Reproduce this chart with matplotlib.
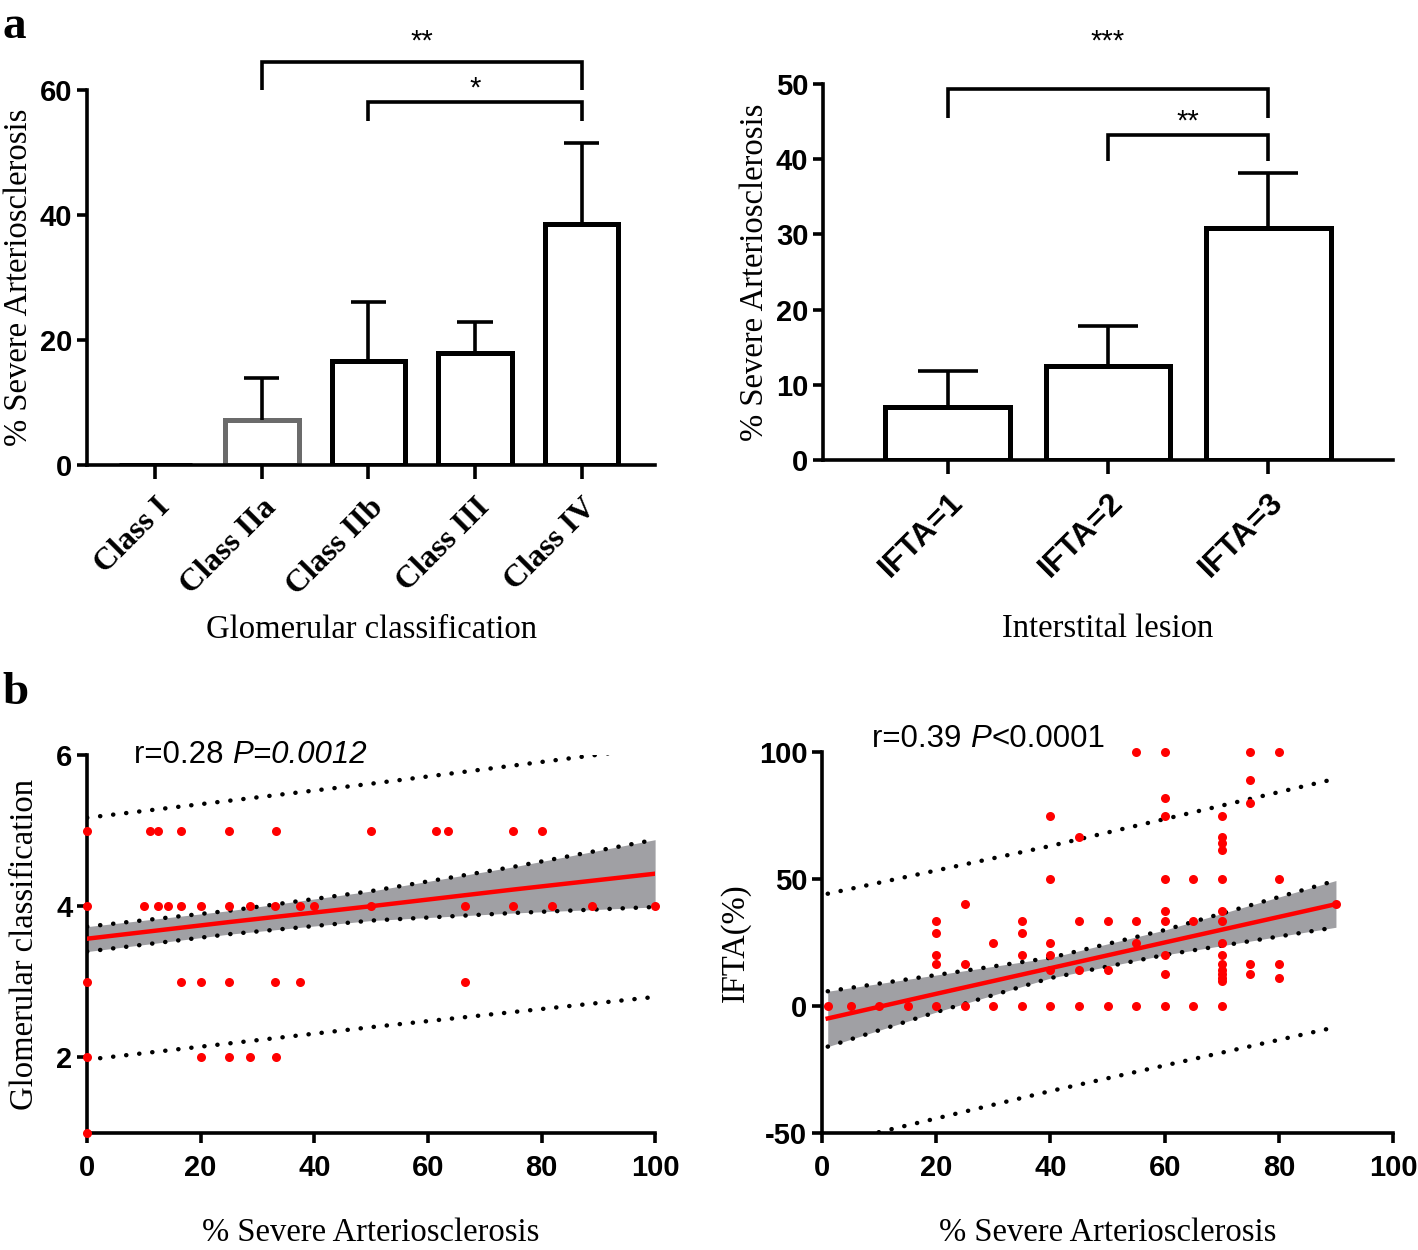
"""Bar charts (a) and correlation scatter plots (b) of severe arteriosclerosis."""

import numpy as np
import matplotlib
matplotlib.use("Agg")
import matplotlib.pyplot as plt

plt.rcParams["axes.unicode_minus"] = False

# --- Panel a, left: glomerular classification ---
glom_classes = ["Class I", "Class IIa", "Class IIb", "Class III", "Class IV"]
glom_mean = [0.0, 7.2, 16.6, 17.9, 38.5]
glom_sem = [0.0, 6.8, 9.5, 5.0, 13.1]

# --- Panel a, right: interstitial lesion ---
ifta_classes = ["IFTA=1", "IFTA=2", "IFTA=3"]
ifta_mean = [7.0, 12.5, 30.8]
ifta_sem = [4.9, 5.3, 7.4]

# --- Panel b, left: glomerular class vs % severe arteriosclerosis ---
glom_x = [0, 11, 12.5, 16.6, 25, 33.3, 50, 61.5, 63.6, 75, 80,
          0, 10, 12.5, 14.3, 16.6, 20, 25, 28.6, 33, 37.5, 40, 50, 66.6, 75, 81.8, 88.9, 100,
          0, 16.6, 20, 25, 33, 37.5, 66.6,
          0, 20, 25, 28.6, 33.3,
          0]
glom_y = [5] * 11 + [4] * 17 + [3] * 7 + [2] * 5 + [1]
glom_fit_x = [0, 25, 50, 75, 100]
glom_fit = [3.57, 3.79, 4.00, 4.22, 4.43]
glom_ci_hi = [3.73, 3.94, 4.20, 4.52, 4.88]
glom_ci_lo = [3.40, 3.63, 3.81, 3.91, 3.99]
glom_pi_x = [0, 50, 100]
glom_pi_hi = [5.17, 5.62, 6.10]
glom_pi_lo = [1.97, 2.40, 2.80]

# --- Panel b, right: IFTA(%) vs % severe arteriosclerosis ---
ifta_x = [1, 5, 10, 15, 20, 25, 30, 35, 40, 45, 50, 55, 60, 65, 70,
          20, 20, 20, 20,
          25, 25,
          30,
          35, 35, 35,
          40, 40, 40, 40, 40,
          45, 45, 45,
          50, 50,
          55, 55, 55,
          60, 60, 60, 60, 60, 60, 60, 60,
          65, 65,
          70, 70, 70, 70, 70, 70, 70, 70, 70, 70, 70, 70, 70, 70,
          75, 75, 75, 75, 75,
          80, 80, 80, 80,
          90]
ifta_y = [0] * 15 + \
         [33.3, 28.6, 20, 16.7] + \
         [40, 16.7] + \
         [25] + \
         [33.3, 28.6, 20] + \
         [75, 50, 25, 20, 14.3] + \
         [66.7, 33.3, 14.3] + \
         [33.3, 14.3] + \
         [100, 33.3, 25] + \
         [100, 81.8, 75, 50, 37.5, 33.3, 20, 12.5] + \
         [50, 33.3] + \
         [75, 66.7, 64.3, 61.5, 50, 37.5, 33.3, 25, 20, 16.7, 14.3, 12.5, 11.1, 10] + \
         [100, 88.9, 80, 16.7, 12.5] + \
         [100, 50, 16.7, 11.1] + \
         [40]
ifta_fit_x = [1, 20, 40, 60, 90]
ifta_fit = [-4.9, 4.8, 14.9, 25.0, 40.1]
ifta_ci_hi = [5.8, 12.2, 19.0, 29.9, 49.4]
ifta_ci_lo = [-16.0, -2.4, 11.0, 20.1, 31.0]
ifta_pi_x = [1, 40, 90]
ifta_pi_hi = [44.2, 63.0, 89.5]
ifta_pi_lo = [-54.5, -33.5, -8.3]

SANS = ["Liberation Sans", "DejaVu Sans"]
SERIF = ["Liberation Serif", "DejaVu Serif"]
LW = 2.6
LABEL_FS = 23.5


def style_axes(ax):
    for s in ("top", "right"):
        ax.spines[s].set_visible(False)
    for s in ("left", "bottom"):
        ax.spines[s].set_linewidth(LW)
    ax.tick_params(width=LW, length=7, direction="out")
    for lbl in ax.get_yticklabels():
        lbl.set_fontfamily(SANS)
        lbl.set_fontweight("bold")
        lbl.set_fontsize(21)


def bar_panel(ax, cats, mean, sem, width, edgecolors):
    x = np.arange(len(cats))
    ax.bar(x, mean, width=width, color="white", edgecolor=edgecolors,
           linewidth=3.6, zorder=2)
    tops = np.array(mean) + np.array(sem)
    for xi, m, t in zip(x, mean, tops):
        if t > m:
            ax.vlines(xi, m, t, color="black", lw=LW, zorder=3)
            ax.hlines(t, xi - width / 4.2, xi + width / 4.2, color="black", lw=LW, zorder=3)
    ax.set_xticks(x)


def bracket(ax, x0, x1, y_leg, y_top, text, text_y):
    ax.plot([x0, x0, x1, x1], [y_leg, y_top, y_top, y_leg], color="black",
            lw=LW, clip_on=False, solid_capstyle="butt", solid_joinstyle="miter")
    ax.text((x0 + x1) / 2, text_y, text, ha="center", va="center",
            fontsize=21, family=SANS, clip_on=False)


def scatter_panel(ax, x, y, fit_x, fit, ci_lo, ci_hi, pi_x, pi_lo, pi_hi):
    ax.fill_between(fit_x, ci_lo, ci_hi, color="#a0a0a4", lw=0, zorder=1)
    dot = dict(color="black", lw=3.2, linestyle=(0, (0.05, 2.9)),
               dash_capstyle="round", zorder=2)
    ax.plot(fit_x, ci_lo, **dot)
    ax.plot(fit_x, ci_hi, **dot)
    ax.plot(pi_x, pi_lo, **dot)
    ax.plot(pi_x, pi_hi, **dot)
    ax.plot(fit_x, fit, color="#ff0000", lw=3.2, zorder=3)
    ax.plot(x, y, "o", color="#ff0000", ms=6.5, mec="none", zorder=5, clip_on=False)
    ax.set_xlim(0, 100)
    ax.set_xticks(np.arange(0, 101, 20))
    ax.tick_params(axis="x", pad=8)
    for lbl in ax.get_xticklabels():
        lbl.set_fontfamily(SANS)
        lbl.set_fontweight("bold")
        lbl.set_fontsize(21)
    ax.set_xlabel("% Severe Arteriosclerosis", family=SERIF, fontsize=LABEL_FS, labelpad=26)


fig = plt.figure(figsize=(14.18, 12.5), dpi=100)

# ---------------- a, left ----------------
ax1 = fig.add_axes([0.0614, 0.628, 0.4006, 0.300])
edge1 = ["black", "#6b6b6b", "black", "black", "black"]
bar_panel(ax1, glom_classes, glom_mean, glom_sem, 0.69, edge1)
ax1.set_xlim(-0.64, 4.69)
ax1.set_ylim(0, 60)
ax1.set_yticks([0, 20, 40, 60])
style_axes(ax1)
ax1.tick_params(axis="x", length=10)
ax1.set_xticklabels(glom_classes, rotation=45, ha="right", rotation_mode="anchor",
                    family=SERIF, fontweight="bold", fontsize=23)
ax1.tick_params(axis="x", pad=10)
ax1.set_ylabel("% Severe Arteriosclerosis", family=SERIF, fontsize=LABEL_FS, labelpad=4)
ax1.set_xlabel("Glomerular classification", family=SERIF, fontsize=LABEL_FS, labelpad=10)
bracket(ax1, 1, 4, 60, 64.5, "**", 67.8)
bracket(ax1, 2, 4, 55, 58.1, "*", 60.3)

# ---------------- a, right ----------------
ax2 = fig.add_axes([0.5804, 0.632, 0.402, 0.3008])
bar_panel(ax2, ifta_classes, ifta_mean, ifta_sem, 0.78, "black")
ax2.set_xlim(-0.78, 2.78)
ax2.set_ylim(0, 50)
ax2.set_yticks([0, 10, 20, 30, 40, 50])
style_axes(ax2)
ax2.tick_params(axis="x", length=10)
ax2.set_xticklabels(ifta_classes, rotation=45, ha="right", rotation_mode="anchor",
                    family=SANS, fontweight="bold", fontsize=23)
ax2.tick_params(axis="x", pad=10)
ax2.set_ylabel("% Severe Arteriosclerosis", family=SERIF, fontsize=LABEL_FS, labelpad=4)
ax2.set_xlabel("Interstital lesion", family=SERIF, fontsize=LABEL_FS, labelpad=22)
bracket(ax2, 0, 2, 45.5, 49.4, "***", 55.6)
bracket(ax2, 1, 2, 39.8, 43.2, "**", 45.0)

# ---------------- b, left ----------------
ax3 = fig.add_axes([0.0614, 0.0936, 0.4006, 0.3024])
scatter_panel(ax3, glom_x, glom_y, glom_fit_x, glom_fit, glom_ci_lo, glom_ci_hi,
              glom_pi_x, glom_pi_lo, glom_pi_hi)
ax3.set_ylim(1, 6)
ax3.set_yticks([2, 4, 6])
style_axes(ax3)
ax3.set_ylabel("Glomerular classification", family=SERIF, fontsize=LABEL_FS, labelpad=12)
t1 = ax3.text(8.3, 6.0, "r=0.28 ", family=SANS, fontsize=22.5, va="center")
ax3.annotate("P=0.0012", xy=(1, 0), xycoords=t1, va="bottom", ha="left",
             family=SANS, fontsize=22.5, style="italic")

# ---------------- b, right ----------------
ax4 = fig.add_axes([0.5797, 0.0936, 0.4027, 0.3048])
scatter_panel(ax4, ifta_x, ifta_y, ifta_fit_x, ifta_fit, ifta_ci_lo, ifta_ci_hi,
              ifta_pi_x, ifta_pi_lo, ifta_pi_hi)
ax4.set_ylim(-50, 100)
ax4.set_yticks([-50, 0, 50, 100])
style_axes(ax4)
ax4.set_ylabel("IFTA(%)", family=SERIF, fontsize=LABEL_FS, labelpad=6)
t2 = ax4.text(8.8, 105, "r=0.39 ", family=SANS, fontsize=22.5, va="center")
t3 = ax4.annotate("P", xy=(1, 0), xycoords=t2, va="bottom", ha="left",
                  family=SANS, fontsize=22.5, style="italic")
ax4.annotate("<0.0001", xy=(1, 0), xycoords=t3, va="bottom", ha="left",
             family=SANS, fontsize=22.5)

# Panel letters
fig.text(0.002, 0.995, "a", family=SERIF, fontweight="bold", fontsize=34, va="top")
fig.text(0.002, 0.462, "b", family=SERIF, fontweight="bold", fontsize=34, va="top")

fig.savefig("out.png", dpi=100)
